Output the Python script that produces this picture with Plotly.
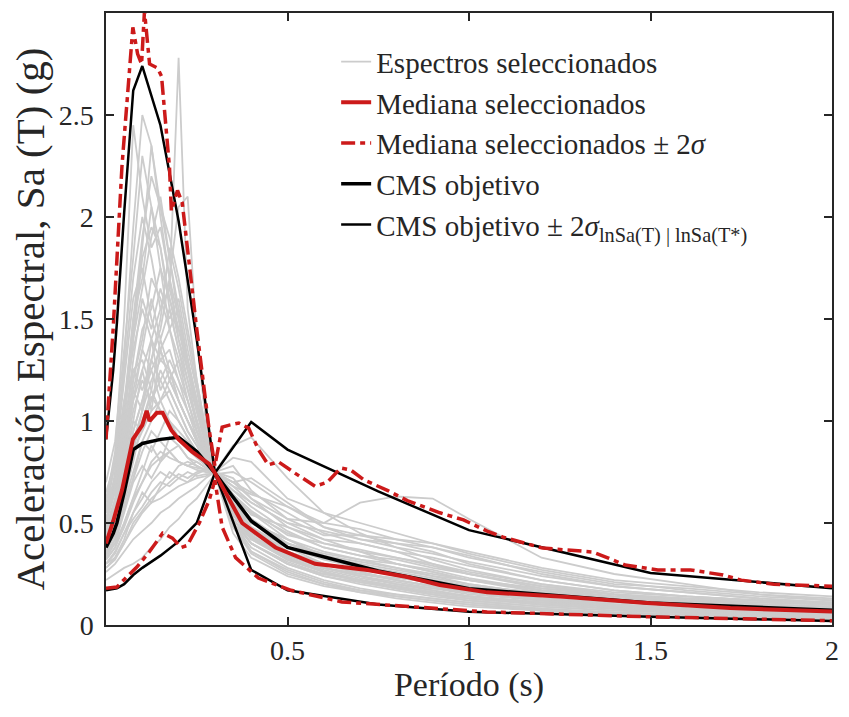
import plotly.graph_objects as go

# ---------------- data ----------------
T_GRID = [0.0, 0.025, 0.05, 0.075, 0.1, 0.125, 0.15, 0.175, 0.2, 0.225, 0.25, 0.275, 0.3,
          0.35, 0.4, 0.5, 0.6, 0.7, 0.8, 0.9, 1.0, 1.2, 1.4, 1.6, 1.8, 2.0]

g01 = [0.55, 0.80, 1.30, 1.95, 2.50, 2.35, 2.05, 1.80, 1.55, 1.30, 1.10, 0.90, 0.75, 0.52, 0.40, 0.30, 0.24, 0.20, 0.17, 0.14, 0.12, 0.09, 0.07, 0.06, 0.05, 0.04]
g02 = [0.45, 0.60, 0.85, 1.10, 1.25, 1.40, 1.55, 1.65, 2.78, 1.55, 1.20, 0.95, 0.76, 0.60, 0.48, 0.36, 0.30, 0.25, 0.22, 0.19, 0.16, 0.12, 0.09, 0.08, 0.07, 0.06]
g03 = [0.60, 0.85, 1.50, 2.45, 2.10, 1.85, 1.95, 1.70, 1.40, 1.20, 1.05, 0.88, 0.74, 0.55, 0.44, 0.33, 0.26, 0.22, 0.18, 0.15, 0.13, 0.10, 0.08, 0.07, 0.06, 0.05]
g04 = [0.50, 0.70, 1.05, 1.50, 1.90, 2.20, 2.05, 1.90, 1.70, 1.45, 1.20, 0.95, 0.75, 0.58, 0.47, 0.35, 0.28, 0.24, 0.20, 0.17, 0.14, 0.11, 0.09, 0.07, 0.06, 0.05]
g05 = [0.40, 0.50, 0.70, 0.95, 1.10, 1.30, 1.45, 1.70, 2.05, 2.10, 1.40, 1.00, 0.75, 0.62, 0.55, 0.42, 0.33, 0.28, 0.24, 0.20, 0.17, 0.13, 0.10, 0.08, 0.07, 0.06]
g06 = [0.45, 0.60, 0.90, 1.20, 1.45, 1.55, 1.75, 1.60, 1.45, 1.30, 1.10, 0.90, 0.75, 0.55, 0.43, 0.32, 0.26, 0.22, 0.19, 0.16, 0.14, 0.11, 0.09, 0.07, 0.06, 0.05]
g07 = [0.50, 0.75, 1.10, 1.35, 1.55, 1.40, 1.30, 1.35, 1.20, 1.05, 0.95, 0.85, 0.74, 0.50, 0.38, 0.28, 0.22, 0.18, 0.15, 0.13, 0.11, 0.08, 0.06, 0.05, 0.04, 0.035]
g08 = [0.30, 0.33, 0.40, 0.48, 0.55, 0.60, 0.62, 0.65, 0.68, 0.70, 0.72, 0.73, 0.75, 0.88, 0.92, 0.72, 0.55, 0.45, 0.38, 0.32, 0.27, 0.20, 0.15, 0.12, 0.10, 0.08]
g09 = [0.35, 0.40, 0.50, 0.62, 0.70, 0.80, 0.85, 0.82, 0.80, 0.78, 0.76, 0.75, 0.74, 0.70, 0.62, 0.52, 0.50, 0.60, 0.63, 0.62, 0.52, 0.33, 0.25, 0.20, 0.15, 0.12]
g10 = [0.22, 0.25, 0.28, 0.30, 0.33, 0.38, 0.42, 0.48, 0.52, 0.58, 0.62, 0.68, 0.74, 0.68, 0.60, 0.50, 0.42, 0.36, 0.30, 0.26, 0.22, 0.17, 0.13, 0.11, 0.09, 0.08]
g11 = [0.30, 0.36, 0.45, 0.55, 0.62, 0.70, 0.75, 0.72, 0.78, 0.80, 0.78, 0.76, 0.75, 0.62, 0.55, 0.45, 0.38, 0.34, 0.30, 0.26, 0.22, 0.16, 0.12, 0.10, 0.08, 0.07]
g12 = [0.38, 0.48, 0.65, 0.85, 0.95, 1.05, 1.10, 1.00, 0.95, 0.90, 0.85, 0.80, 0.74, 0.50, 0.40, 0.30, 0.24, 0.21, 0.18, 0.16, 0.14, 0.11, 0.09, 0.08, 0.07, 0.06]
g13 = [0.42, 0.55, 0.80, 1.05, 1.20, 1.10, 1.25, 1.15, 1.05, 0.95, 0.88, 0.80, 0.75, 0.48, 0.35, 0.25, 0.20, 0.16, 0.14, 0.12, 0.10, 0.07, 0.06, 0.05, 0.04, 0.03]
g14 = [0.65, 0.80, 1.10, 1.25, 1.15, 1.30, 1.20, 1.10, 1.00, 0.92, 0.85, 0.80, 0.74, 0.56, 0.45, 0.38, 0.32, 0.28, 0.25, 0.22, 0.19, 0.15, 0.12, 0.10, 0.09, 0.08]
g15 = [0.35, 0.42, 0.60, 0.75, 0.90, 0.85, 0.95, 1.05, 1.00, 0.92, 0.85, 0.80, 0.76, 0.60, 0.50, 0.40, 0.35, 0.32, 0.28, 0.24, 0.20, 0.15, 0.12, 0.10, 0.08, 0.07]
g16 = [0.28, 0.33, 0.42, 0.55, 0.65, 0.60, 0.68, 0.75, 0.72, 0.70, 0.74, 0.76, 0.75, 0.70, 0.65, 0.55, 0.45, 0.40, 0.36, 0.30, 0.25, 0.18, 0.14, 0.12, 0.10, 0.09]
g17 = [0.48, 0.62, 0.90, 1.20, 1.40, 1.70, 1.60, 1.45, 1.30, 1.15, 1.00, 0.86, 0.74, 0.45, 0.33, 0.24, 0.19, 0.16, 0.13, 0.11, 0.09, 0.07, 0.05, 0.04, 0.035, 0.03]
g18 = [0.55, 0.70, 1.00, 1.40, 1.80, 1.95, 1.85, 1.55, 1.35, 1.15, 0.98, 0.85, 0.74, 0.52, 0.40, 0.30, 0.25, 0.22, 0.18, 0.15, 0.13, 0.10, 0.08, 0.06, 0.05, 0.045]
g19 = [0.32, 0.38, 0.50, 0.62, 0.75, 0.88, 0.80, 0.92, 0.88, 0.82, 0.78, 0.76, 0.74, 0.66, 0.58, 0.46, 0.38, 0.34, 0.32, 0.28, 0.25, 0.19, 0.15, 0.13, 0.11, 0.10]
g20 = [0.60, 0.78, 1.20, 1.60, 1.75, 1.50, 1.35, 1.20, 1.10, 1.00, 0.90, 0.82, 0.75, 0.50, 0.36, 0.26, 0.20, 0.17, 0.15, 0.13, 0.11, 0.08, 0.06, 0.05, 0.04, 0.035]
g21 = [0.40, 0.50, 0.72, 0.95, 1.10, 1.25, 1.35, 1.45, 1.55, 1.30, 1.05, 0.88, 0.75, 0.58, 0.48, 0.38, 0.30, 0.26, 0.22, 0.19, 0.16, 0.12, 0.10, 0.08, 0.07, 0.06]
g22 = [0.45, 0.58, 0.78, 1.00, 0.95, 1.10, 1.20, 1.30, 1.20, 1.10, 0.95, 0.82, 0.76, 0.56, 0.44, 0.34, 0.28, 0.25, 0.23, 0.21, 0.19, 0.16, 0.13, 0.12, 0.11, 0.10]
g23 = [0.70, 0.90, 1.35, 1.80, 2.30, 2.05, 1.85, 1.60, 1.40, 1.25, 1.05, 0.90, 0.74, 0.48, 0.36, 0.27, 0.21, 0.17, 0.14, 0.12, 0.10, 0.075, 0.06, 0.05, 0.04, 0.035]
g24 = [0.36, 0.44, 0.58, 0.72, 0.85, 0.95, 0.90, 0.85, 0.88, 0.82, 0.80, 0.77, 0.75, 0.64, 0.54, 0.48, 0.42, 0.40, 0.36, 0.33, 0.29, 0.22, 0.17, 0.14, 0.12, 0.11]
g25 = [0.30, 0.35, 0.45, 0.52, 0.58, 0.65, 0.70, 0.68, 0.72, 0.75, 0.73, 0.74, 0.74, 0.75, 0.70, 0.58, 0.50, 0.47, 0.42, 0.38, 0.33, 0.26, 0.20, 0.18, 0.15, 0.13]
g26 = [0.52, 0.66, 0.95, 1.25, 1.30, 1.15, 1.05, 1.00, 0.92, 0.88, 0.84, 0.79, 0.75, 0.54, 0.42, 0.32, 0.26, 0.21, 0.18, 0.15, 0.12, 0.09, 0.07, 0.06, 0.05, 0.045]
g27 = [0.38, 0.46, 0.62, 0.80, 1.00, 1.15, 1.40, 1.25, 1.10, 1.00, 0.90, 0.82, 0.75, 0.60, 0.50, 0.42, 0.34, 0.29, 0.26, 0.23, 0.20, 0.15, 0.12, 0.10, 0.08, 0.07]
g28 = [0.33, 0.40, 0.55, 0.70, 0.78, 0.72, 0.80, 0.85, 0.80, 0.78, 0.80, 0.77, 0.74, 0.58, 0.47, 0.36, 0.28, 0.24, 0.20, 0.17, 0.14, 0.10, 0.08, 0.06, 0.05, 0.04]
g29 = [0.48, 0.60, 0.85, 1.15, 1.35, 1.25, 1.10, 1.15, 1.05, 0.95, 0.88, 0.80, 0.75, 0.62, 0.52, 0.40, 0.33, 0.30, 0.27, 0.24, 0.22, 0.18, 0.15, 0.13, 0.12, 0.11]
g30 = [0.42, 0.52, 0.70, 0.90, 1.05, 1.20, 1.30, 1.25, 1.15, 1.05, 0.92, 0.82, 0.76, 0.52, 0.40, 0.31, 0.25, 0.22, 0.19, 0.16, 0.14, 0.11, 0.09, 0.075, 0.065, 0.055]
g31 = [0.58, 0.72, 1.05, 1.45, 1.85, 2.35, 2.00, 1.70, 1.50, 1.30, 1.10, 0.92, 0.76, 0.55, 0.43, 0.32, 0.26, 0.22, 0.19, 0.16, 0.14, 0.10, 0.08, 0.07, 0.06, 0.05]
g32 = [0.26, 0.30, 0.36, 0.42, 0.46, 0.50, 0.55, 0.58, 0.62, 0.65, 0.68, 0.72, 0.75, 0.72, 0.62, 0.48, 0.40, 0.36, 0.33, 0.30, 0.26, 0.20, 0.16, 0.14, 0.12, 0.10]
g33 = [0.50, 0.65, 0.95, 1.30, 1.60, 1.45, 1.65, 1.50, 1.60, 1.35, 1.15, 0.92, 0.75, 0.58, 0.46, 0.36, 0.30, 0.27, 0.25, 0.22, 0.19, 0.15, 0.12, 0.10, 0.09, 0.08]
g34 = [0.44, 0.56, 0.82, 1.10, 1.35, 1.60, 1.40, 1.55, 1.35, 1.20, 1.00, 0.85, 0.75, 0.64, 0.56, 0.44, 0.40, 0.37, 0.33, 0.29, 0.25, 0.19, 0.15, 0.12, 0.10, 0.09]
g35 = [0.62, 0.82, 1.25, 1.70, 2.00, 1.80, 1.55, 1.65, 1.45, 1.25, 1.08, 0.90, 0.75, 0.52, 0.42, 0.34, 0.28, 0.24, 0.21, 0.18, 0.15, 0.12, 0.10, 0.08, 0.07, 0.06]
g36 = [0.36, 0.45, 0.62, 0.85, 1.05, 1.30, 1.50, 1.85, 1.65, 1.40, 1.15, 0.92, 0.76, 0.60, 0.50, 0.42, 0.36, 0.32, 0.30, 0.27, 0.23, 0.17, 0.13, 0.11, 0.09, 0.08]
g37 = [0.40, 0.52, 0.75, 1.00, 1.25, 1.05, 1.35, 1.20, 1.30, 1.10, 0.95, 0.84, 0.74, 0.66, 0.60, 0.50, 0.46, 0.42, 0.38, 0.35, 0.31, 0.24, 0.19, 0.16, 0.13, 0.11]
g38 = [0.55, 0.72, 1.08, 1.50, 1.70, 2.05, 1.75, 1.45, 1.25, 1.10, 0.95, 0.84, 0.75, 0.56, 0.45, 0.35, 0.30, 0.26, 0.22, 0.19, 0.16, 0.12, 0.10, 0.08, 0.07, 0.06]
g39 = [0.34, 0.42, 0.56, 0.72, 0.90, 1.00, 1.10, 1.20, 1.10, 1.00, 0.92, 0.80, 0.75, 0.68, 0.64, 0.58, 0.48, 0.44, 0.40, 0.36, 0.30, 0.22, 0.17, 0.14, 0.12, 0.10]
g40 = [0.46, 0.60, 0.88, 1.15, 1.05, 1.40, 1.15, 1.25, 1.10, 1.00, 0.90, 0.82, 0.75, 0.54, 0.43, 0.33, 0.27, 0.23, 0.20, 0.18, 0.16, 0.13, 0.11, 0.09, 0.08, 0.07]
g41 = [0.32, 0.38, 0.48, 0.60, 0.70, 0.78, 0.82, 0.85, 0.80, 0.78, 0.77, 0.76, 0.75, 0.82, 0.80, 0.62, 0.55, 0.50, 0.45, 0.40, 0.35, 0.27, 0.21, 0.17, 0.14, 0.12]
g42 = [0.40, 0.50, 0.68, 0.88, 1.00, 1.12, 1.05, 0.98, 0.92, 0.86, 0.82, 0.78, 0.75, 0.70, 0.72, 0.60, 0.48, 0.42, 0.40, 0.38, 0.34, 0.25, 0.19, 0.16, 0.13, 0.11]
g43 = [0.28, 0.32, 0.40, 0.50, 0.56, 0.62, 0.66, 0.70, 0.74, 0.72, 0.75, 0.76, 0.75, 0.78, 0.66, 0.52, 0.44, 0.44, 0.42, 0.40, 0.36, 0.28, 0.22, 0.19, 0.16, 0.14]
g44 = [0.52, 0.68, 1.00, 1.40, 1.65, 1.90, 2.10, 1.80, 1.50, 1.25, 1.05, 0.90, 0.76, 0.62, 0.52, 0.40, 0.34, 0.31, 0.28, 0.25, 0.22, 0.17, 0.14, 0.12, 0.10, 0.09]

GRAY_SPECTRA = [g01, g02, g03, g04, g05, g06, g07, g08, g09, g10, g11, g12, g13, g14, g15, g16,
                g17, g18, g19, g20, g21, g22, g23, g24, g25, g26, g27, g28, g29, g30, g31, g32,
                g33, g34, g35, g36, g37, g38, g39, g40, g41, g42, g43, g44]

# Median of selected spectra
MED_T = [0.0, 0.02, 0.044, 0.074, 0.1, 0.112, 0.12, 0.14, 0.156, 0.18, 0.2, 0.237, 0.284, 0.3,
         0.375, 0.467, 0.576, 0.72, 0.83, 0.92, 1.05, 1.27, 1.49, 1.72, 2.0]
MED_SA = [0.40, 0.51, 0.66, 0.91, 0.98, 1.05, 1.00, 1.04, 1.04, 0.955, 0.91, 0.85, 0.79, 0.745,
          0.50, 0.38, 0.30, 0.27, 0.235, 0.196, 0.16, 0.137, 0.108, 0.083, 0.066]

# Median +2 sigma
MUP_T = [0.0, 0.02, 0.044, 0.074, 0.087, 0.098, 0.106, 0.12, 0.142, 0.153, 0.175, 0.18, 0.197,
         0.21, 0.248, 0.284, 0.3, 0.32, 0.34, 0.366, 0.393, 0.42, 0.447, 0.475, 0.52, 0.576, 0.61,
         0.647, 0.674, 0.712, 0.775, 0.83, 0.92, 0.985, 1.05, 1.094, 1.203, 1.34, 1.384, 1.43,
         1.52, 1.61, 1.70, 1.75, 1.84, 2.0]
MUP_SA = [0.91, 1.46, 2.25, 2.93, 2.80, 2.75, 3.01, 2.75, 2.73, 2.69, 2.24, 2.03, 2.13,
          2.07, 1.48, 0.96, 0.78, 0.97, 0.98, 0.99, 0.965, 0.86, 0.785, 0.80, 0.745, 0.68, 0.70,
          0.77, 0.76, 0.71, 0.66, 0.61, 0.55, 0.515, 0.46, 0.431, 0.377, 0.358, 0.328, 0.294,
          0.27, 0.27, 0.245, 0.22, 0.20, 0.19]

# Median -2 sigma
MLO_T = [0.0, 0.03, 0.057, 0.085, 0.12, 0.156, 0.183, 0.207, 0.224, 0.257, 0.284, 0.3,
         0.32, 0.357, 0.42, 0.51, 0.65, 0.83, 1.05, 1.5, 2.0]
MLO_SA = [0.18, 0.186, 0.235, 0.284, 0.36, 0.45, 0.426, 0.38, 0.39, 0.50, 0.61, 0.71,
          0.48, 0.33, 0.23, 0.17, 0.113, 0.09, 0.064, 0.04, 0.021]

# Conditional mean spectrum (target)
CMS_T = [0.0, 0.02, 0.03, 0.05, 0.075, 0.1, 0.15, 0.2, 0.25, 0.3, 0.4, 0.5, 0.75, 1.0, 1.5, 2.0]
CMS = [0.38, 0.45, 0.50, 0.65, 0.86, 0.89, 0.91, 0.92, 0.85, 0.745, 0.51, 0.38, 0.265, 0.178, 0.108, 0.072]
CMS_UP = [0.91, 1.25, 1.48, 2.02, 2.62, 2.74, 2.45, 1.98, 1.40, 0.745, 0.995, 0.86, 0.655, 0.465, 0.255, 0.18]
CMS_LO = [0.17, 0.175, 0.18, 0.20, 0.245, 0.28, 0.34, 0.41, 0.50, 0.745, 0.27, 0.17, 0.10, 0.065, 0.04, 0.02]

# ---------------- figure ----------------
GRAY = "#cccccc"
RED = "#cc1a1a"
FONT = "Liberation Serif"

fig = go.Figure()

for i, s in enumerate(GRAY_SPECTRA):
    fig.add_trace(go.Scatter(
        x=T_GRID, y=s, mode="lines", line=dict(color=GRAY, width=1.8),
        name="Espectros seleccionados", legendgroup="g1", showlegend=(i == 0),
        legendrank=1, hoverinfo="skip"))

fig.add_trace(go.Scatter(x=CMS_T, y=CMS, mode="lines", line=dict(color="black", width=3.5),
                         name="CMS objetivo", legendgroup="g4", legendrank=4))
fig.add_trace(go.Scatter(x=CMS_T, y=CMS_UP, mode="lines", line=dict(color="black", width=2.5),
                         name="CMS objetivo ± 2<i>σ</i><sub>lnSa(T) | lnSa(T*)</sub>",
                         legendgroup="g5", legendrank=5))
fig.add_trace(go.Scatter(x=CMS_T, y=CMS_LO, mode="lines", line=dict(color="black", width=2.5),
                         name="CMS objetivo ± 2σ", legendgroup="g5", showlegend=False))

fig.add_trace(go.Scatter(x=MED_T, y=MED_SA, mode="lines", line=dict(color=RED, width=4),
                         name="Mediana seleccionados", legendgroup="g2", legendrank=2))
fig.add_trace(go.Scatter(x=MUP_T, y=MUP_SA, mode="lines",
                         line=dict(color=RED, width=3.5, dash="14px,5px,5px,5px"),
                         name="Mediana seleccionados ± 2<i>σ</i>", legendgroup="g3", legendrank=3))
fig.add_trace(go.Scatter(x=MLO_T, y=MLO_SA, mode="lines",
                         line=dict(color=RED, width=3.5, dash="14px,5px,5px,5px"),
                         name="Mediana -2σ", legendgroup="g3", showlegend=False))

axis_common = dict(showline=True, mirror="ticks", linecolor="#262626", linewidth=1.5,
                   ticks="inside", ticklen=8, tickwidth=1.5, tickcolor="#262626",
                   showgrid=False, zeroline=False,
                   tickfont=dict(family=FONT, size=28, color="#262626"))

fig.update_layout(
    width=849, height=717,
    margin=dict(l=106, r=10, t=13, b=92),
    paper_bgcolor="white", plot_bgcolor="white",
    font=dict(family=FONT, color="#262626"),
    xaxis=dict(range=[0, 2], tickvals=[0.5, 1, 1.5, 2], ticktext=["0.5", "1", "1.5", "2"],
               title=dict(text="Período (s)", font=dict(family=FONT, size=34), standoff=6),
               **axis_common),
    yaxis=dict(range=[0, 3], tickvals=[0, 0.5, 1, 1.5, 2, 2.5, 3],
               ticktext=["0", "0.5", "1", "1.5", "2", "2.5", "3"],
               ticklabelstandoff=5,
               title=dict(text="Aceleración Espectral, Sa (T) (g)", font=dict(family=FONT, size=41),
                          standoff=1),
               **axis_common),
    legend=dict(x=0.317, y=0.962, xanchor="left", yanchor="top", bgcolor="rgba(0,0,0,0)",
                font=dict(family=FONT, size=29, color="#262626"), tracegroupgap=0,
                traceorder="grouped"),
    showlegend=True,
)

fig.write_html("out.html")
